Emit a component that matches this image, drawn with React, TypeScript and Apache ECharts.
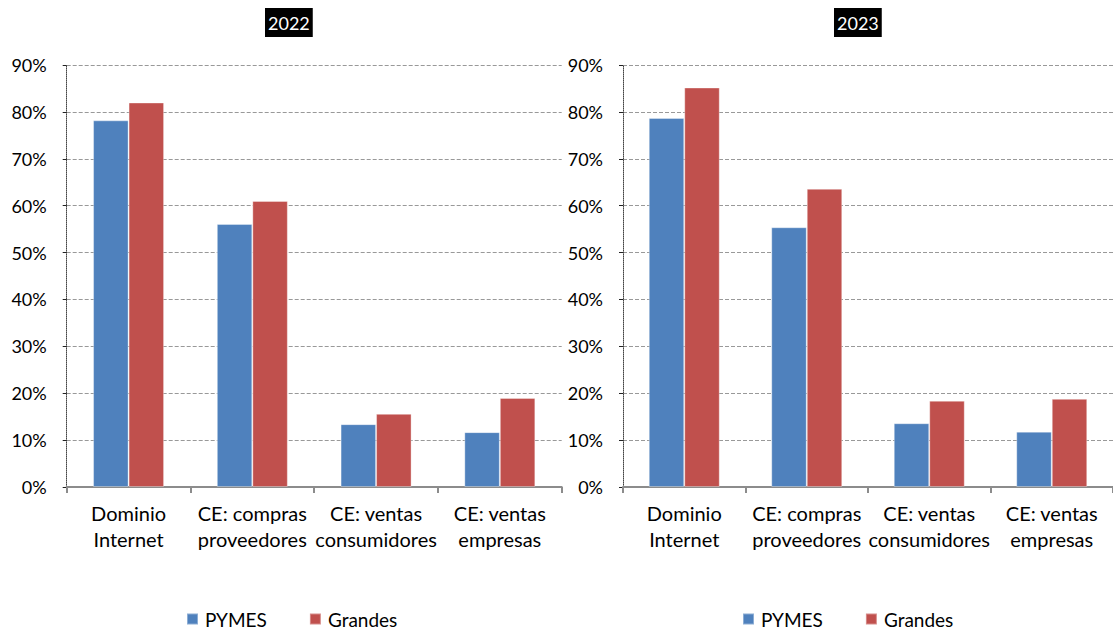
import React, { useEffect, useRef } from "react";
import * as echarts from "echarts";

const categories = [
  "Dominio\nInternet",
  "CE: compras\nproveedores",
  "CE: ventas\nconsumidores",
  "CE: ventas\nempresas",
];
const years = ["2022", "2023"];
const pymes2022 = [78.2, 56.1, 13.4, 11.7];
const grandes2022 = [82.0, 61.0, 15.6, 19.0];
const pymes2023 = [78.7, 55.4, 13.6, 11.8];
const grandes2023 = [85.2, 63.6, 18.4, 18.8];
const yTicks = [0, 10, 20, 30, 40, 50, 60, 70, 80, 90];

const FONT = "Lato";
const BLUE = "#4F81BD";
const RED = "#C0504D";

export default function App() {
  const ref = useRef<HTMLDivElement>(null);
  useEffect(() => {
    if (!ref.current) return;
    const chart = echarts.init(ref.current, undefined, { renderer: "svg" });
    const grids = [
      { left: 66.7, top: 65, width: 495, height: 422 },
      { left: 623, top: 65, width: 498, height: 422 },
    ];
    const mkX = (gi: number) => ({
      type: "category",
      gridIndex: gi,
      data: categories,
      boundaryGap: true,
      axisLine: { show: true, lineStyle: { color: "#8c8c8c", width: 2 } },
      axisTick: { show: true, length: 6, alignWithLabel: false, interval: 0, lineStyle: { color: "#8c8c8c", width: 2 } },
      axisLabel: { interval: 0, color: "#000", fontFamily: FONT, fontSize: 20, lineHeight: 26, margin: 13 },
      splitLine: { show: false },
    });
    const mkY = (gi: number) => ({
      type: "value",
      gridIndex: gi,
      min: yTicks[0],
      max: yTicks[yTicks.length - 1],
      interval: 10,
      axisLine: { show: true, lineStyle: { color: "#444", type: "dotted", width: 1 } },
      axisTick: { show: true, length: 6, lineStyle: { color: "#222", type: "dashed", width: 1 } },
      axisLabel: { color: "#000", fontFamily: FONT, fontSize: 18, margin: 20, formatter: "{value}%" },
      splitLine: { show: true, lineStyle: { color: "#999", type: "dashed", width: 1 } },
    });
    const mkBar = (name: string, gi: number, data: number[], color: string) => ({
      type: "bar",
      name,
      xAxisIndex: gi,
      yAxisIndex: gi,
      data,
      barWidth: 35.5,
      barGap: "0%",
      itemStyle: { color, borderColor: "rgba(255,255,255,0.35)", borderWidth: 1 },
    });
    const mkTitle = (text: string, left: number) => ({
      text,
      left,
      top: 8,
      padding: [4, 3, 3, 3],
      backgroundColor: "#000",
      textStyle: { color: "#fff", fontFamily: FONT, fontSize: 18, fontWeight: "normal", lineHeight: 22 },
    });
    const mkLegend = (left: number) => ({
      left,
      top: 608,
      padding: 0,
      itemWidth: 11,
      itemHeight: 11,
      itemGap: 42,
      icon: "rect",
      data: ["PYMES", "Grandes"],
      textStyle: { color: "#000", fontFamily: FONT, fontSize: 19, lineHeight: 22, padding: [0, 0, 0, 2] },
    });
    chart.setOption({
      animation: false,
      backgroundColor: "#fff",
      title: [mkTitle(years[0], 265), mkTitle(years[1], 834)],
      legend: [mkLegend(186), mkLegend(742)],
      grid: grids,
      xAxis: [mkX(0), mkX(1)],
      yAxis: [mkY(0), mkY(1)],
      series: [
        mkBar("PYMES", 0, pymes2022, BLUE),
        mkBar("Grandes", 0, grandes2022, RED),
        mkBar("PYMES", 1, pymes2023, BLUE),
        mkBar("Grandes", 1, grandes2023, RED),
      ],
    });
    return () => chart.dispose();
  }, []);
  return (
    <div
      ref={ref}
      style={{ position: "fixed", left: 0, top: 0, width: 1113, height: 632, background: "#fff" }}
    />
  );
}
